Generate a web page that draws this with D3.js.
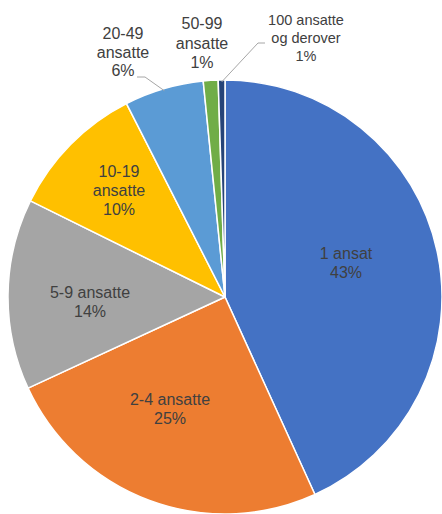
<!DOCTYPE html>
<html>
<head>
<meta charset="utf-8">
<script src="https://cdn.jsdelivr.net/npm/d3@7"></script>
<style>
  body { margin: 0; background: #fff; }
  svg { display: block; }
</style>
</head>
<body>
<svg width="442" height="514"></svg>
<script>
// data
var categories = ['1 ansat', '2-4 ansatte', '5-9 ansatte', '10-19 ansatte', '20-49 ansatte', '50-99 ansatte', '100 ansatte og derover']
var shares = [43.2, 24.9, 14.2, 10.2, 5.9, 1.1, 0.5]
var pctLabels = ['43%', '25%', '14%', '10%', '6%', '1%', '1%']
var labelLines = [
  ['1 ansat'],
  ['2-4 ansatte'],
  ['5-9 ansatte'],
  ['10-19', 'ansatte'],
  ['20-49', 'ansatte'],
  ['50-99', 'ansatte'],
  ['100 ansatte', 'og derover']
]

var colors = ['#4472C4', '#ED7D31', '#A5A5A5', '#FFC000', '#5B9BD5', '#70AD47', '#264478']

// layout: first baseline and centre x of each label block
var labelAt = [
  [346, 259], [170, 405], [90, 298], [119, 177], [123, 39], [202, 29], [306, 25]
]
var labelSize = [16, 16, 16, 16, 16, 16, 14.5]
var lineGap = [19, 19, 19, 19, 18.5, 19.5, 18]

var W = 442, H = 514
var cx = 225, cy = 297, R = 217

var svg = d3.select('svg')
var g = svg.append('g').attr('transform', 'translate(' + cx + ',' + cy + ')')

var pie = d3.pie().sort(null).value(function(d) { return d })
var arcs = pie(shares)
var arc = d3.arc().innerRadius(0).outerRadius(R)

g.selectAll('path.slice')
  .data(arcs)
  .enter().append('path')
  .attr('class', 'slice')
  .attr('d', arc)
  .attr('fill', function(d, i) { return colors[i] })
  .attr('stroke', '#fff')
  .attr('stroke-width', 1.5)
  .attr('stroke-linejoin', 'round')

// leader lines for the two small outside labels
function edgePoint(d, r) {
  var a = (d.startAngle + d.endAngle) / 2
  return [cx + Math.sin(a) * r, cy - Math.cos(a) * r]
}
var leaders = [
  { i: 4, from: [137, 77], knee: [145, 77] },
  { i: 6, from: [265, 43], knee: [258, 43] }
]
svg.selectAll('path.leader')
  .data(leaders)
  .enter().append('path')
  .attr('class', 'leader')
  .attr('d', function(d) {
    var p = edgePoint(arcs[d.i], R - 2)
    return d3.line()([d.from, d.knee, p])
  })
  .attr('fill', 'none')
  .attr('stroke', '#A6A6A6')
  .attr('stroke-width', 1)

// labels
var lab = svg.selectAll('text.lab')
  .data(categories)
  .enter().append('text')
  .attr('class', 'lab')
  .attr('text-anchor', 'middle')
  .attr('font-family', '"Liberation Sans", Arial, sans-serif')
  .attr('font-size', function(d, i) { return labelSize[i] })
  .attr('fill', '#404040')

lab.each(function(d, i) {
  var t = d3.select(this)
  var lines = labelLines[i].concat([pctLabels[i]])
  lines.forEach(function(s, k) {
    t.append('tspan')
      .attr('x', labelAt[i][0])
      .attr('y', labelAt[i][1] + k * lineGap[i])
      .text(s)
  })
})
</script>
</body>
</html>
